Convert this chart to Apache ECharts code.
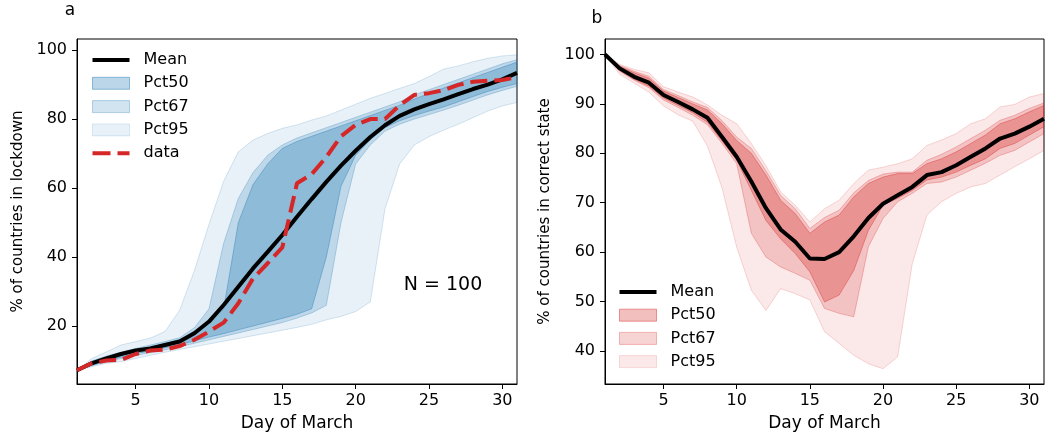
<!DOCTYPE html>
<html>
<head>
<meta charset="utf-8">
<script src="https://cdn.jsdelivr.net/npm/echarts@6/dist/echarts.min.js"></script>
<style>
html,body{margin:0;padding:0;background:#fff;}
#chart{width:1045px;height:441px;}
</style>
</head>
<body>
<div id="chart"></div>
<script>
// ---------- data ----------
var days = [1,2,3,4,5,6,7,8,9,10,11,12,13,14,15,16,17,18,19,20,21,22,23,24,25,26,27,28,29,30,31];

// panel a: % of countries in lockdown
var meanL  = [7.2,9.2,10.6,11.9,12.9,13.5,14.5,15.5,17.9,21.3,26.1,31.4,36.7,41.5,46.4,51.7,56.8,61.8,66.5,70.8,74.8,78.2,80.9,82.8,84.3,85.7,87.2,88.7,90.0,91.5,93.4];
var dataL  = [7.2,9.2,10.0,10.2,11.9,12.9,13.2,14.2,16.0,18.4,21.0,26.6,33.8,38.2,42.8,61.4,64.0,69.0,75.0,78.3,80.0,80.0,84.0,87.0,87.5,88.4,89.9,90.8,91.1,91.3,92.1];
var p50loL = [7.2,8.7,9.9,11.0,12.0,12.8,13.7,14.6,15.7,16.8,17.8,18.9,20.0,21.1,22.2,23.4,25.0,40.0,60.5,69.5,74.0,77.5,79.5,81.0,82.3,83.5,85.0,86.5,88.0,89.2,90.3];
var p50upL = [7.2,9.7,11.0,12.1,13.1,14.0,15.0,16.1,18.5,21.0,25.0,50.0,61.0,67.0,71.5,73.5,75.0,76.5,78.0,79.5,81.0,82.5,84.0,85.8,87.4,89.0,90.5,92.0,93.5,95.0,96.5];
var p67loL = [7.2,8.5,9.6,10.6,11.5,12.3,13.1,14.0,15.0,16.0,17.0,18.0,19.0,20.0,21.0,22.3,23.8,26.0,50.0,67.0,72.5,76.5,78.5,80.0,81.3,82.6,84.0,85.5,87.0,88.3,89.5];
var p67upL = [7.2,9.9,11.3,12.4,13.5,14.5,15.5,16.6,19.5,25.0,44.0,57.0,64.5,69.5,72.5,74.5,76.0,77.5,79.0,80.5,82.0,83.5,85.0,87.0,88.5,90.0,91.5,93.0,94.5,96.0,97.2];
var p95loL = [7.2,8.2,9.2,9.7,10.6,11.5,12.4,13.2,14.0,14.8,15.6,16.4,17.2,18.0,18.8,19.6,20.5,21.8,22.8,24.2,27.0,54.0,67.0,72.5,74.9,76.8,78.5,80.4,82.3,83.8,84.8];
var p95upL = [7.2,10.6,12.5,14.5,15.5,16.5,18.4,24.6,36.0,49.5,62.0,70.5,73.9,75.8,77.3,78.3,79.7,80.9,82.6,84.3,86.0,87.4,88.9,90.3,92.3,94.5,95.4,96.6,97.6,98.3,98.6];

// panel b: % of countries in correct state
var meanR  = [100,97.2,95.5,94.3,91.8,90.4,88.9,87.2,83.3,79.3,74.3,68.9,64.6,62.1,58.7,58.6,60.0,63.2,66.9,69.8,71.5,73.2,75.6,76.2,77.6,79.3,81.0,83.0,84.0,85.4,87.0];
var p50loR = [100,96.8,95.0,93.6,91.2,89.7,88.2,86.3,82.5,78.6,72.5,66.4,62.7,59.7,56.0,49.9,51.3,56.3,64.4,69.5,70.9,72.5,74.6,75.2,76.2,77.6,78.9,81.0,82.0,83.7,85.4];
var p50upR = [100,97.6,96.3,95.2,92.6,91.3,90.0,88.8,86.0,82.6,80.0,75.6,70.5,67.8,63.8,66.1,67.5,71.2,73.9,75.2,75.9,75.9,77.9,78.9,80.3,82.0,83.7,86.0,87.0,88.4,89.7];
var p67loR = [100,96.6,94.8,93.3,90.8,89.3,87.7,85.8,82.0,77.9,63.8,59.0,57.0,55.7,54.3,48.6,47.6,46.9,61.1,66.8,70.2,71.9,73.9,74.2,75.2,76.6,78.0,79.6,80.6,82.3,84.0];
var p67upR = [100,97.8,96.6,95.6,92.9,91.7,90.4,89.3,86.6,83.3,81.0,76.5,71.5,68.8,64.8,67.0,68.5,72.0,74.5,75.8,76.2,76.2,78.6,79.8,81.3,83.0,84.7,86.7,87.7,89.1,90.2];
var p95loR = [100,96.0,94.2,92.4,89.6,87.8,86.5,81.5,73.0,61.0,52.3,48.2,52.6,51.6,50.3,43.9,41.5,39.1,37.4,36.4,38.8,57.7,67.5,70.2,71.9,73.2,73.9,75.6,77.3,78.9,80.6];
var p95upR = [100,98.0,97.0,96.3,93.5,92.4,91.4,89.8,87.7,86.0,82.0,77.5,72.2,69.5,66.1,68.8,70.5,73.9,76.6,77.2,77.9,78.9,81.6,82.7,84.0,86.0,87.0,89.4,89.9,91.4,92.1];

// ticks
var xTicks  = [5,10,15,20,25,30];
var yTicksL = [20,40,60,80,100];
var yTicksR = [40,50,60,70,80,90,100];

// ---------- chart ----------
var FONT = 'DejaVu Sans';
var BLUE = [31,119,180], RED = [214,39,40];
function rgba(c,a){return 'rgba('+c[0]+','+c[1]+','+c[2]+','+a+')';}
function pairs(v){return days.map(function(d,i){return [d,v[i]];});}

// a translucent band between lo and up, drawn as one polygon via the axes' scales
function band(name, lo, up, idx, col, a){
  var rows = days.map(function(d,i){return [d, lo[i], up[i]];});
  return {
    type:'custom', name:name, xAxisIndex:idx, yAxisIndex:idx, silent:true, z:2, clip:true,
    data: rows,
    encode:{x:0, y:[1,2]},
    itemStyle:{color:rgba(col,a)},
    renderItem:function(params, api){
      if (params.dataIndex !== 0) return null;
      var pts = [], i;
      for (i = 0; i < rows.length; i++) pts.push(api.coord([rows[i][0], rows[i][1]]));
      for (i = rows.length - 1; i >= 0; i--) pts.push(api.coord([rows[i][0], rows[i][2]]));
      return {type:'polygon', shape:{points:pts},
        style:{fill:rgba(col,a), stroke:rgba(col,Math.min(1,a+0.08)), lineWidth:1}};
    }
  };
}

function xAx(idx){
  return {type:'value', gridIndex:idx, min:1, max:31,
    name:'Day of March', nameLocation:'middle', nameGap:31,
    nameTextStyle:{fontFamily:FONT, fontSize:17, color:'#000'},
    axisLine:{show:true, lineStyle:{color:'#000', width:1}},
    axisTick:{show:true, length:5, lineStyle:{color:'#000'}, customValues:xTicks},
    axisLabel:{fontFamily:FONT, fontSize:16, color:'#000', margin:9, customValues:xTicks},
    splitLine:{show:false}};
}
function yAx(idx, mn, mx, ticks, name, gap){
  return {type:'value', gridIndex:idx, min:mn, max:mx,
    name:name, nameLocation:'middle', nameGap:gap,
    nameTextStyle:{fontFamily:FONT, fontSize:15, color:'#000'},
    axisLine:{show:true, lineStyle:{color:'#000', width:1}},
    axisTick:{show:true, length:5, lineStyle:{color:'#000'}, customValues:ticks},
    axisLabel:{fontFamily:FONT, fontSize:16, color:'#000', margin:10, customValues:ticks},
    splitLine:{show:false}};
}

var lineIcon = 'path://M0,0h37v4h-37z';
var dashIcon = 'path://M0,0h18v4h-18zM25,0h12v4h-12z';
function legendItems(col, withData){
  var items = [
    {name:'Mean', icon:lineIcon, itemStyle:{color:'#000', borderWidth:0}},
    {name:'Pct50', icon:'rect', itemStyle:{color:rgba(col,0.3), borderColor:rgba(col,0.45), borderWidth:1}},
    {name:'Pct67', icon:'rect', itemStyle:{color:rgba(col,0.2), borderColor:rgba(col,0.3), borderWidth:1}},
    {name:'Pct95', icon:'rect', itemStyle:{color:rgba(col,0.1), borderColor:rgba(col,0.15), borderWidth:1}}
  ];
  if (withData) items.push({name:'data', icon:dashIcon, itemStyle:{color:'#d62728', borderWidth:0}});
  return items;
}
var legendText = {fontFamily:FONT, fontSize:16, color:'#000', lineHeight:16, padding:[0,0,0,9]};

var series = [
  band('Pct95', p95loL, p95upL, 0, BLUE, 0.1),
  band('Pct67', p67loL, p67upL, 0, BLUE, 0.2),
  band('Pct50', p50loL, p50upL, 0, BLUE, 0.3),
  {type:'line', name:'Mean', xAxisIndex:0, yAxisIndex:0, data:pairs(meanL), symbol:'none', z:4,
   lineStyle:{color:'#000', width:4}, itemStyle:{color:'#000'}},
  {type:'line', name:'data', xAxisIndex:0, yAxisIndex:0, data:pairs(dataL), symbol:'none', z:5,
   lineStyle:{color:'#d62728', width:4, type:[17,7]}, itemStyle:{color:'#d62728'}},
  band('Pct95', p95loR, p95upR, 1, RED, 0.1),
  band('Pct67', p67loR, p67upR, 1, RED, 0.2),
  band('Pct50', p50loR, p50upR, 1, RED, 0.3),
  {type:'line', name:'Mean', xAxisIndex:1, yAxisIndex:1, data:pairs(meanR), symbol:'none', z:4,
   lineStyle:{color:'#000', width:4}, itemStyle:{color:'#000'}}
];

var chart = echarts.init(document.getElementById('chart'), null, {renderer:'canvas'});
chart.setOption({
  animation:false,
  backgroundColor:'#fff',
  grid:[
    {left:77, top:39, width:440, height:345, show:true, borderColor:'#000', borderWidth:1, backgroundColor:'transparent'},
    {left:605, top:39, width:439, height:345, show:true, borderColor:'#000', borderWidth:1, backgroundColor:'transparent'}
  ],
  xAxis:[xAx(0), xAx(1)],
  yAxis:[
    yAx(0, 3.2, 103.2, yTicksL, '% of countries in lockdown', 51),
    yAx(1, 33.3, 103.15, yTicksR, '% of countries in correct state', 52)
  ],
  legend:[
    {orient:'vertical', left:92, top:52, padding:0, itemGap:7.3, itemWidth:37, itemHeight:12,
     selectedMode:false, textStyle:legendText, data:legendItems(BLUE, true)},
    {orient:'vertical', left:619, top:284, padding:0, itemGap:7.2, itemWidth:37, itemHeight:12,
     selectedMode:false, textStyle:legendText, data:legendItems(RED, false)}
  ],
  graphic:[
    {type:'text', x:70, y:10.5, style:{text:'a', fontFamily:FONT, fontSize:17, fill:'#000', textAlign:'center', textVerticalAlign:'middle'}},
    {type:'text', x:597, y:18.9, style:{text:'b', fontFamily:FONT, fontSize:17, fill:'#000', textAlign:'center', textVerticalAlign:'middle'}},
    {type:'text', x:443, y:285, style:{text:'N = 100', fontFamily:FONT, fontSize:19, fill:'#000', textAlign:'center', textVerticalAlign:'middle'}}
  ],
  series:series
});
</script>
</body>
</html>
